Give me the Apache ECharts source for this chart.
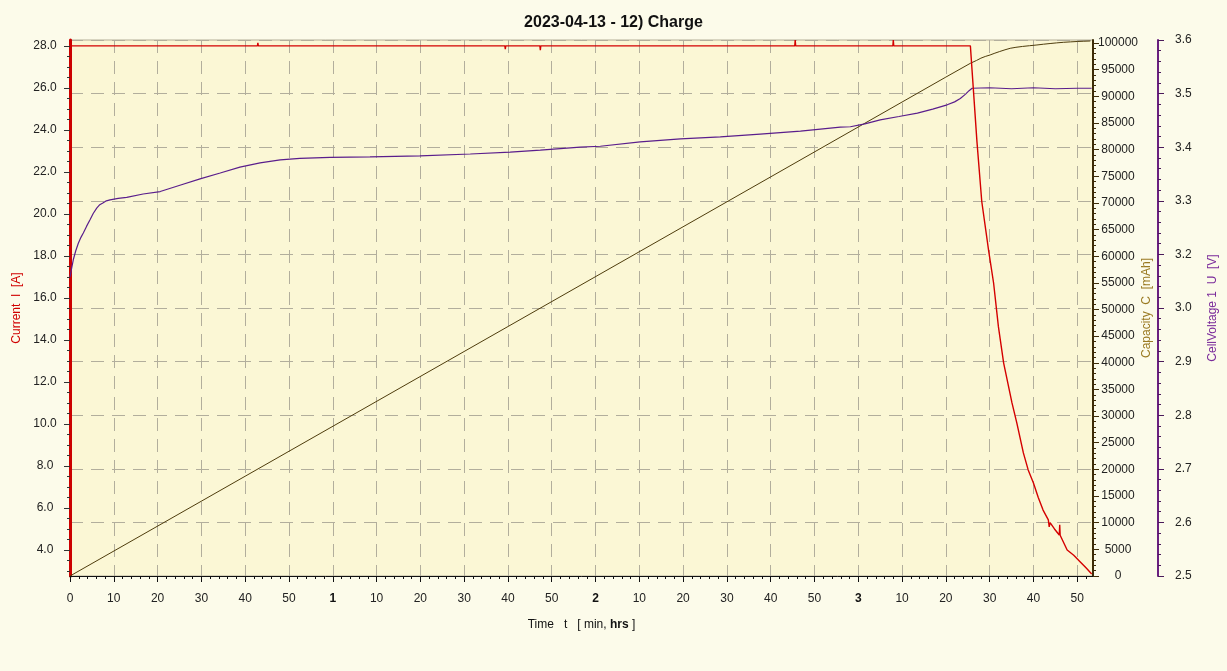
<!DOCTYPE html>
<html>
<head>
<meta charset="utf-8">
<script src="https://cdn.jsdelivr.net/npm/echarts@6/dist/echarts.min.js"></script>
<style>
html,body{margin:0;padding:0;background:#FCFBEA;}
#c{width:1227px;height:671px;}
</style>
</head>
<body>
<div id="c"></div>
<script>
// ---- data ----
var titleText = '2023-04-13 - 12) Charge';

// Current I [A] vs time [min]
var currentT = [0, 42.8, 42.9, 43.0, 99.3, 99.4, 99.5, 107.3, 107.4, 107.5, 165.5, 165.6, 165.7, 187.9, 188.0, 188.1, 205.6, 207.1, 208.2, 209.8, 210.9, 212.0, 213.2, 215.1, 216.2, 217.7, 218.8, 220.0, 221.1, 222.2, 223.4, 223.6, 223.8, 224.8, 225.9, 226.0, 226.1, 227.7, 229.2, 230.7, 232.0, 233.3];
var currentA = [28.0, 28.0, 28.15, 28.0, 28.0, 27.85, 28.0, 28.0, 27.8, 28.0, 28.0, 28.28, 28.0, 28.0, 28.28, 28.0, 28.0, 23.44, 20.59, 18.2, 16.71, 14.63, 12.9, 11.0, 10.05, 8.62, 7.81, 7.19, 6.5, 5.9, 5.43, 5.1, 5.3, 5.0, 4.71, 5.2, 4.7, 4.0, 3.75, 3.43, 3.15, 2.86];

// Capacity C [mAh] vs time [min]
var capT = [0, 50, 100, 150, 200, 205.6, 207.0, 208.0, 209.0, 210.1, 211.2, 212.3, 213.5, 214.7, 216.0, 217.5, 219.1, 220.8, 222.3, 223.8, 225.3, 226.9, 228.5, 230.0, 231.5, 233.0];
var capMah = [0, 23400, 46800, 70200, 93600, 96190, 96720, 97150, 97470, 97749, 98090, 98400, 98720, 99006, 99190, 99350, 99490, 99625, 99770, 99900, 100020, 100131, 100210, 100280, 100330, 100375];

// Cell voltage U [V] vs time [min]
var voltT = [0, 0.4, 0.75, 1.3, 1.9, 2.5, 3.04, 3.8, 4.57, 5.3, 6.1, 6.8, 7.6, 8.3, 9.14, 11.0, 12.95, 16.7, 20.6, 25.1, 29.7, 34.3, 38.8, 43.4, 48.0, 52.5, 59.4, 68.5, 79.9, 91.4, 100.5, 107.4, 116.5, 121.1, 130.2, 139.4, 148.5, 157.6, 166.8, 175.9, 178.2, 181.5, 185.0, 189.3, 193.5, 197.0, 200.3, 202.0, 203.3, 204.5, 205.3, 206.0, 210, 215, 220, 225, 230, 233.3];
var voltV = [3.114, 3.133, 3.149, 3.167, 3.183, 3.195, 3.204, 3.218, 3.231, 3.244, 3.255, 3.262, 3.266, 3.270, 3.272, 3.275, 3.277, 3.284, 3.289, 3.302, 3.315, 3.327, 3.339, 3.348, 3.354, 3.357, 3.359, 3.360, 3.362, 3.366, 3.370, 3.374, 3.380, 3.382, 3.391, 3.397, 3.401, 3.407, 3.413, 3.421, 3.422, 3.428, 3.436, 3.443, 3.450, 3.458, 3.467, 3.473, 3.480, 3.489, 3.496, 3.501, 3.502, 3.500, 3.502, 3.500, 3.501, 3.501];

// tick labels
var currentTicks = [4, 6, 8, 10, 12, 14, 16, 18, 20, 22, 24, 26, 28];
var capacityTicks = [0, 5000, 10000, 15000, 20000, 25000, 30000, 35000, 40000, 45000, 50000, 55000, 60000, 65000, 70000, 75000, 80000, 85000, 90000, 95000, 100000];
var voltageTickLabels = ['2.5', '2.6', '2.7', '2.8', '2.9', '3.0', '3.2', '3.3', '3.4', '3.5', '3.6'];
var timeTicks = [0, 10, 20, 30, 40, 50, 60, 70, 80, 90, 100, 110, 120, 130, 140, 150, 160, 170, 180, 190, 200, 210, 220, 230];

// ---- build helpers ----
function pairs(a, b) { return a.map(function (v, i) { return [v, b[i]]; }); }
function range(from, to, step, skipEvery) {
  var out = [];
  for (var k = 0; from + k * step <= to + 1e-9; k++) {
    if (skipEvery && k % skipEvery === 0) continue;
    out.push(+(from + k * step).toFixed(6));
  }
  return out;
}
var vMin = 2.5, vMax = 3.6, vStep = (vMax - vMin) / 10;
var voltMajor = range(vMin, vMax, vStep);
var voltMinor = range(vMin, vMax, vStep / 5, 5);
var curMinor = range(3.0, 28.0, 0.5).filter(function (v) { return v % 2 !== 0; });
var capMinor = range(0, 100000, 1000, 5);
var timeMinor = range(0, 233, 2, 5);

var X_MAX = 233.6;
var FONT = 'Liberation Sans, Arial, sans-serif';
var labelFont = { color: '#222', fontSize: 12, fontFamily: FONT };

var chart = echarts.init(document.getElementById('c'), null, { renderer: 'canvas' });
chart.setOption({
  animation: false,
  backgroundColor: '#FCFBEA',
  title: {
    text: titleText, left: 'center', top: 10,
    textStyle: { fontSize: 16, fontWeight: 'bold', color: '#111', fontFamily: FONT }
  },
  grid: {
    left: 70, right: 134, top: 40, bottom: 95,
    show: true, backgroundColor: '#FBF7D5', borderColor: '#B5AE98', borderWidth: 1,
    containLabel: false, outerBoundsMode: 'none'
  },
  xAxis: [
    {
      type: 'value', min: 0, max: X_MAX, interval: 10, position: 'bottom',
      axisLine: { show: true, lineStyle: { color: '#111', width: 1 } },
      axisTick: { show: true, customValues: timeTicks, length: 6, lineStyle: { color: '#111' } },
      axisLabel: Object.assign({
        customValues: timeTicks, margin: 17,
        formatter: function (v) {
          if (v === 0) return '0';
          if (v % 60 === 0) return '{b|' + (v / 60) + '}';
          return String(v % 60);
        },
        rich: { b: { fontWeight: 'bold', fontSize: 12, color: '#111', fontFamily: FONT } }
      }, labelFont),
      splitLine: { show: true, lineStyle: { color: '#B2AE9C', type: [13, 8], width: 1 } },
      name: '{n|Time   t   [ min, }{b|hrs}{n| ]}', nameLocation: 'middle', nameGap: 43,
      nameTextStyle: {
        rich: {
          n: { fontSize: 12, color: '#111', fontFamily: FONT },
          b: { fontSize: 12, color: '#111', fontWeight: 'bold', fontFamily: FONT }
        }
      }
    },
    {
      type: 'value', min: 0, max: X_MAX, position: 'bottom',
      axisLine: { show: false },
      axisTick: { show: true, customValues: timeMinor, length: 3, lineStyle: { color: '#111' } },
      axisLabel: { show: false }, splitLine: { show: false }
    }
  ],
  yAxis: [
    { // 0 current major
      type: 'value', min: 2.76, max: 28.28, position: 'left',
      axisLine: { show: true, lineStyle: { color: '#CC0000', width: 3 } },
      axisTick: { show: true, customValues: currentTicks, length: 6, lineStyle: { color: '#333' } },
      axisLabel: Object.assign({ customValues: currentTicks, align: 'center', margin: 25,
        formatter: function (v) { return v.toFixed(1); } }, labelFont),
      splitLine: { show: false },
      name: 'Current  I  [A]', nameLocation: 'middle', nameGap: 47, nameRotate: 90,
      nameTextStyle: { color: '#D00000', fontSize: 12, fontFamily: FONT }
    },
    { // 1 current minor
      type: 'value', min: 2.76, max: 28.28, position: 'left',
      axisLine: { show: false },
      axisTick: { show: true, customValues: curMinor, length: 3, lineStyle: { color: '#333' } },
      axisLabel: { show: false }, splitLine: { show: false }
    },
    { // 2 capacity major
      type: 'value', min: 0, max: 100560, position: 'right',
      axisLine: { show: true, lineStyle: { color: '#3E2C08', width: 2 } },
      axisTick: { show: true, customValues: capacityTicks, length: 6, lineStyle: { color: '#3E2C08' } },
      axisLabel: Object.assign({ customValues: capacityTicks, align: 'center', margin: 25,
        formatter: function (v) { return String(v); } }, labelFont),
      splitLine: { show: false },
      name: 'Capacity  C  [mAh]', nameLocation: 'middle', nameGap: 48, nameRotate: 90,
      nameMoveOverlap: false,
      nameTextStyle: { color: '#9A7A22', fontSize: 12, fontFamily: FONT }
    },
    { // 3 capacity minor
      type: 'value', min: 0, max: 100560, position: 'right',
      axisLine: { show: false },
      axisTick: { show: true, customValues: capMinor, length: 3, lineStyle: { color: '#3E2C08' } },
      axisLabel: { show: false }, splitLine: { show: false }
    },
    { // 4 voltage major
      type: 'value', min: vMin, max: vMax, position: 'right', offset: 65,
      axisLine: { show: true, lineStyle: { color: '#6A2080', width: 2 } },
      axisTick: { show: true, customValues: voltMajor, length: 6, lineStyle: { color: '#4A1A5A' } },
      axisLabel: Object.assign({ customValues: voltMajor, align: 'left', margin: 17,
        formatter: function (v) { return voltageTickLabels[Math.round((v - vMin) / vStep)]; } }, labelFont),
      splitLine: { show: false },
      name: 'CellVoltage 1  U  [V]', nameLocation: 'middle', nameGap: 49, nameRotate: 90,
      nameTextStyle: { color: '#7A2A9A', fontSize: 12, fontFamily: FONT }
    },
    { // 5 voltage minor
      type: 'value', min: vMin, max: vMax, position: 'right', offset: 65,
      axisLine: { show: false },
      axisTick: { show: true, customValues: voltMinor, length: 3, lineStyle: { color: '#4A1A5A' } },
      axisLabel: { show: false }, splitLine: { show: false }
    },
    { // 6 horizontal grid divisions
      type: 'value', min: 0, max: 10, interval: 1, position: 'left',
      axisLine: { show: false }, axisTick: { show: false }, axisLabel: { show: false },
      splitLine: { show: true, lineStyle: { color: '#B2AE9C', type: [13, 8], width: 1 } }
    }
  ],
  series: [
    {
      name: 'Capacity', type: 'line', xAxisIndex: 0, yAxisIndex: 2, showSymbol: false,
      data: pairs(capT, capMah), lineStyle: { color: '#4E3C0C', width: 1 }, z: 3
    },
    {
      name: 'Voltage', type: 'line', xAxisIndex: 0, yAxisIndex: 4, showSymbol: false,
      data: pairs(voltT, voltV), lineStyle: { color: '#5A1E8C', width: 1.2 }, z: 4
    },
    {
      name: 'Current', type: 'line', xAxisIndex: 0, yAxisIndex: 0, showSymbol: false,
      data: pairs(currentT, currentA), lineStyle: { color: '#D40000', width: 1.4 }, z: 5
    }
  ]
});
</script>
</body>
</html>
